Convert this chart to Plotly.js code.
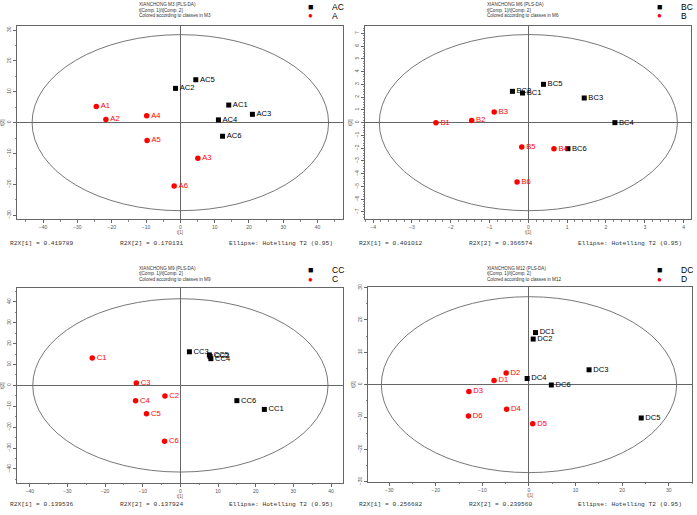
<!DOCTYPE html>
<html>
<head>
<meta charset="utf-8">
<script src="https://cdn.plot.ly/plotly-3.0.1.min.js"></script>
<style>html,body{margin:0;padding:0;background:#fff;}#chart{width:697px;height:515px;}</style>
</head>
<body>
<div id="chart"></div>
<script>
// ---- data ----
const models = ["M3", "M6", "M9", "M12"];
const ctrlNames = ["AC", "BC", "CC", "DC"];
const trtNames = ["A", "B", "C", "D"];

const acLabels = ["AC1", "AC2", "AC3", "AC4", "AC5", "AC6"];
const acX = [14.1, -1.4, 21.0, 11.1, 4.5, 12.3];
const acY = [5.7, 11.1, 2.7, 0.9, 13.9, -4.4];
const aLabels = ["A1", "A2", "A3", "A4", "A5", "A6"];
const aX = [-24.5, -21.7, 5.1, -9.8, -9.7, -1.8];
const aY = [5.2, 1.0, -11.5, 2.2, -5.8, -20.5];

const bcLabels = ["BC1", "BC2", "BC3", "BC4", "BC5", "BC6"];
const bcX = [-0.15, -0.41, 1.44, 2.23, 0.39, 1.02];
const bcY = [2.32, 2.45, 1.93, 0.0, 3.0, -2.04];
const bLabels = ["B1", "B2", "B3", "B4", "B5", "B6"];
const bX = [-2.38, -1.46, -0.88, 0.66, -0.17, -0.29];
const bY = [0.0, 0.16, 0.84, -2.04, -1.9, -4.65];

const ccLabels = ["CC1", "CC2", "CC3", "CC4", "CC5", "CC6"];
const ccX = [22.3, 7.9, 2.4, 8.1, 7.7, 15.0];
const ccY = [-11.5, 13.8, 16.1, 12.8, 14.6, -7.3];
const cLabels = ["C1", "C2", "C3", "C4", "C5", "C6"];
const cX = [-23.4, -4.1, -11.7, -11.9, -9.0, -4.2];
const cY = [13.1, -5.1, 1.1, -7.3, -13.6, -26.8];

const dcLabels = ["DC1", "DC2", "DC3", "DC4", "DC5", "DC6"];
const dcX = [1.4, 0.9, 12.9, -0.4, 24.1, 4.8];
const dcY = [16.1, 14.1, 4.6, 1.9, -10.3, -0.1];
const dLabels = ["D1", "D2", "D3", "D4", "D5", "D6"];
const dX = [-7.5, -4.9, -12.9, -4.8, 0.8, -13.0];
const dY = [1.3, 3.6, -2.1, -7.6, -12.1, -9.7];

const r2x1 = ["0.419789", "0.401012", "0.139536", "0.256682"];
const r2x2 = ["0.170131", "0.366574", "0.137924", "0.239560"];
const ellipseRX = [43.2, 3.84, 39.2, 31.7];
const ellipseRY = [28.5, 6.9, 41.5, 27.2];

const xRanges = [[-47.6, 47.4], [-4.2, 4.19], [-43.3, 43.1], [-34.5, 35.0]];
const yRanges = [[-31.2, 31.3], [-7.55, 7.57], [-46.6, 46.5], [-30.0, 30.1]];
const tickSteps = [10, 1, 10, 10];

// ---- layout geometry ----
const W = 697, H = 515;
const frames = [ // left, right, top, bottom in px
  [17, 343, 26, 219],
  [365.3, 691, 26, 219],
  [17.3, 342.7, 288.3, 482.7],
  [368.3, 692, 287.3, 481.7]
];
const groups = [
  [acLabels, acX, acY, aLabels, aX, aY],
  [bcLabels, bcX, bcY, bLabels, bX, bY],
  [ccLabels, ccX, ccY, cLabels, cX, cY],
  [dcLabels, dcX, dcY, dLabels, dX, dY]
];

const traces = [];
const layout = {
  width: W, height: H, margin: {l: 0, r: 0, t: 0, b: 0},
  paper_bgcolor: "#fff", plot_bgcolor: "#fff", showlegend: false,
  font: {family: "Liberation Sans, Arial, sans-serif"},
  shapes: [], annotations: []
};

function px(x) { return x / W; }
function py(y) { return 1 - y / H; }

for (let i = 0; i < 4; i++) {
  const n = i === 0 ? "" : String(i + 1);
  const xa = "x" + n, ya = "y" + n;
  const f = frames[i];
  const g = groups[i];
  const minorStep = i === 1 ? 0.2 : tickSteps[i] / 2;
  const common = {
    showline: true, mirror: true, linecolor: "#666", linewidth: 1,
    ticks: "outside", ticklen: 3, tickwidth: 1, tickcolor: "#666",
    tickfont: {size: 5, color: "#555"}, showgrid: false,
    zeroline: true, zerolinecolor: "#666", zerolinewidth: 1,
    dtick: tickSteps[i], tick0: 0, fixedrange: true,
    minor: {ticks: "outside", ticklen: 1.5, tickcolor: "#888", dtick: minorStep, showgrid: false}
  };
  layout["xaxis" + n] = Object.assign({}, common, {
    domain: [px(f[0]), px(f[1])], range: xRanges[i], anchor: ya,
    title: {text: "t[1]", font: {size: 4.5, color: "#555"}, standoff: 1}
  });
  layout["yaxis" + n] = Object.assign({}, common, {
    domain: [py(f[3]), py(f[2])], range: yRanges[i], anchor: xa, tickangle: -90,
    title: {text: "t[2]", font: {size: 4.5, color: "#555"}, standoff: 1}
  });
  layout.shapes.push({
    type: "circle", xref: xa, yref: ya, layer: "below",
    x0: -ellipseRX[i], x1: ellipseRX[i], y0: -ellipseRY[i], y1: ellipseRY[i],
    line: {color: "#777", width: 1}
  });
  traces.push({
    type: "scatter", mode: "markers+text", xaxis: xa, yaxis: ya,
    x: g[1], y: g[2], text: g[0], textposition: "middle right",
    marker: {symbol: "square", size: 5, color: "#000"},
    textfont: {size: 7.6, color: "#000", family: "Liberation Sans, Arial"},
    cliponaxis: false, hoverinfo: "skip"
  });
  traces.push({
    type: "scatter", mode: "markers+text", xaxis: xa, yaxis: ya,
    x: g[4], y: g[5], text: g[3], textposition: "middle right",
    marker: {symbol: "circle", size: 5.5, color: "#ff0000"},
    textfont: {size: 7.6, color: "#ff0000", family: "Liberation Sans, Arial"},
    cliponaxis: false, hoverinfo: "skip"
  });

  // header text
  const left = i % 2 === 0;
  const hx = left ? 137 : 485;
  const hy0 = i < 2 ? 4.7 : 268.3;
  const head = ["XIANCHONG " + models[i] + " (PLS-DA)", "t[Comp. 1]/t[Comp. 2]", "Colored according to classes in " + models[i]];
  head.forEach((t, k) => {
    layout.annotations.push({
      xref: "paper", yref: "paper", x: px(hx), y: py(hy0 + k * 5.4),
      xanchor: "left", yanchor: "middle", showarrow: false, text: t,
      font: {size: 4.6, color: "#333"}
    });
  });
  // legend
  const lx = left ? 310 : 659;
  const ly = i < 2 ? 6.7 : 269.7;
  layout.annotations.push({xref: "paper", yref: "paper", x: px(lx), y: py(ly), showarrow: false,
    text: "■", font: {size: 9, color: "#000"}, xanchor: "center", yanchor: "middle"});
  layout.annotations.push({xref: "paper", yref: "paper", x: px(lx), y: py(ly + 9.3), showarrow: false,
    text: "●", font: {size: 8, color: "#ff0000"}, xanchor: "center", yanchor: "middle"});
  layout.annotations.push({xref: "paper", yref: "paper", x: px(lx + 20), y: py(ly + 0.5), showarrow: false,
    text: ctrlNames[i], font: {size: 8.5, color: "#000"}, xanchor: "left", yanchor: "middle"});
  layout.annotations.push({xref: "paper", yref: "paper", x: px(lx + 20), y: py(ly + 9.6), showarrow: false,
    text: trtNames[i], font: {size: 8.5, color: "#000"}, xanchor: "left", yanchor: "middle"});
  // footer
  const fx = left ? 8 : 357;
  const fy = i < 2 ? 243 : 504;
  const foot = [["R2X[1] = " + r2x1[i], 0], ["R2X[2] = " + r2x2[i], 110], ["Ellipse: Hotelling T2 (0.95)", 219]];
  foot.forEach(([t, off]) => {
    layout.annotations.push({
      xref: "paper", yref: "paper", x: px(fx + off), y: py(fy),
      xanchor: "left", yanchor: "middle", showarrow: false, text: t,
      font: {size: 6.2, color: "#333", family: "Liberation Mono, Courier New, monospace"}
    });
  });
}

Plotly.newPlot("chart", traces, layout, {staticPlot: true, displayModeBar: false});
</script>
</body>
</html>
